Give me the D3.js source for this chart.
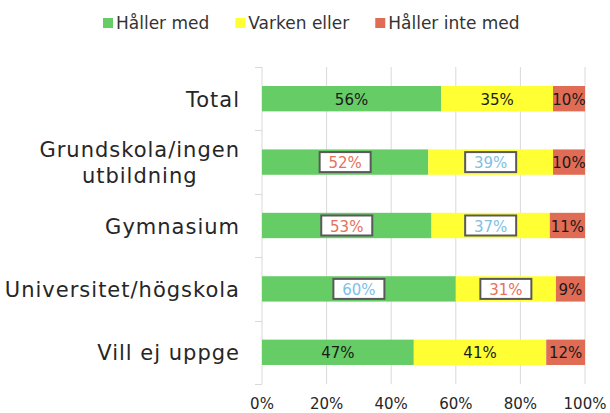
<!DOCTYPE html>
<html>
<head>
<meta charset="utf-8">
<script src="https://cdn.jsdelivr.net/npm/d3@7"></script>
<style>
  body { margin: 0; background: #fff; }
  svg { display: block; font-family: "Century Gothic", "DejaVu Sans", sans-serif; }
</style>
</head>
<body>
<div id="chart"></div>
<script>
// ---- data ----
const categories = ["Total", "Grundskola/ingen utbildning", "Gymnasium", "Universitet/högskola", "Vill ej uppge"];
const categoryLines = [["Total"], ["Grundskola/ingen", "utbildning"], ["Gymnasium"], ["Universitet/högskola"], ["Vill ej uppge"]];
const seriesNames = ["Håller med", "Varken eller", "Håller inte med"];
const hallerMed = [56, 52, 53, 60, 47];
const varkenEller = [35, 39, 37, 31, 41];
const hallerInteMed = [10, 10, 11, 9, 12];
// significance marks: -1 lower than total (red box), 1 higher (blue box), 0 none
const sigHallerMed = [0, -1, -1, 1, 0];
const sigVarken = [0, 1, 1, -1, 0];
const sigInte = [0, 0, 0, 0, 0];
const xTicks = [0, 0.2, 0.4, 0.6, 0.8, 1.0];

const colors = ["#66cc66", "#ffff33", "#e06c55"];
const sigColor = { "-1": "#e8705a", "1": "#7fc0e6" };

const W = 610, H = 413;
const svg = d3.select("#chart").append("svg").attr("width", W).attr("height", H);

const rows = categories.map((c, i) => ({
  cat: c, lines: categoryLines[i],
  "Håller med": hallerMed[i], "Varken eller": varkenEller[i], "Håller inte med": hallerInteMed[i]
}));
const sigs = [sigHallerMed, sigVarken, sigInte];

const stack = d3.stack().keys(seriesNames).offset(d3.stackOffsetExpand);
const series = stack(rows);

const x = d3.scaleLinear().domain([0, 1]).range([262, 585]);
const y = d3.scaleBand().domain(categories).range([67, 384]).paddingInner(0.6).paddingOuter(0.3);

// gridlines
svg.append("g").selectAll("line").data(xTicks.slice(1)).join("line")
  .attr("x1", d => x(d)).attr("x2", d => x(d))
  .attr("y1", 67).attr("y2", 384)
  .attr("stroke", "#d9d9d9").attr("stroke-width", 1);

// left axis line + ticks at band boundaries
const boundaries = d3.range(categories.length + 1).map(i => 67 + i * y.step());
svg.append("line").attr("x1", 262).attr("x2", 262).attr("y1", 67).attr("y2", 384)
  .attr("stroke", "#d9d9d9");
svg.append("g").selectAll("line").data(boundaries).join("line")
  .attr("x1", 255).attr("x2", 262).attr("y1", d => Math.round(d) + 0.5).attr("y2", d => Math.round(d) + 0.5)
  .attr("stroke", "#d9d9d9");

// bars
const gSeries = svg.append("g").selectAll("g").data(series).join("g")
  .attr("fill", (d, i) => colors[i]);
gSeries.selectAll("rect").data(d => d).join("rect")
  .attr("x", d => x(d[0]))
  .attr("width", d => x(d[1]) - x(d[0]))
  .attr("y", d => y(d.data.cat))
  .attr("height", y.bandwidth());

// value labels
series.forEach((s, si) => {
  s.forEach((d, ri) => {
    const cx = (x(d[0]) + x(d[1])) / 2;
    const cy = y(d.data.cat) + y.bandwidth() / 2;
    const sig = sigs[si][ri];
    const val = d.data[s.key];
    if (sig !== 0) {
      svg.append("rect")
        .attr("x", cx - 25.5).attr("y", cy - 10)
        .attr("width", 51).attr("height", 20)
        .attr("fill", "#fff").attr("stroke", "#595959").attr("stroke-width", 2);
    }
    svg.append("text")
      .attr("x", cx).attr("y", cy + 6)
      .attr("text-anchor", "middle")
      .attr("font-size", 15)
      .attr("fill", sig !== 0 ? sigColor[sig] : "#1a1a1a")
      .text(val + "%");
  });
});

// category labels
const catG = svg.append("g");
rows.forEach(r => {
  const cy = y(r.cat) + y.bandwidth() / 2;
  const n = r.lines.length;
  const t = catG.append("text")
    .attr("font-size", 21).attr("fill", "#262626")
    .attr("letter-spacing", 1);
  if (n === 1) {
    t.attr("x", 240).attr("y", cy + 8).attr("text-anchor", "end").text(r.lines[0]);
  } else {
    // measure first line to center the block under right edge
    const tmp = catG.append("text").attr("font-size", 21).attr("letter-spacing", 1).text(r.lines[0]);
    const w = tmp.node().getComputedTextLength();
    tmp.remove();
    const mid = 240 - w / 2;
    t.attr("text-anchor", "middle");
    r.lines.forEach((ln, li) => {
      t.append("tspan").attr("x", mid).attr("y", cy + 8 - 13 * (n - 1) + li * 26).text(ln);
    });
  }
});

// x tick labels
svg.append("g").selectAll("text").data(xTicks).join("text")
  .attr("x", d => x(d)).attr("y", 409)
  .attr("text-anchor", "middle").attr("font-size", 15).attr("fill", "#262626")
  .text(d => d3.format(".0%")(d));

// legend
const legend = svg.append("g");
let lx = 103;
seriesNames.forEach((name, i) => {
  legend.append("rect").attr("x", lx).attr("y", 18).attr("width", 10).attr("height", 10).attr("fill", colors[i]);
  const t = legend.append("text").attr("x", lx + 13).attr("y", 29)
    .attr("font-size", 17).attr("fill", "#333").text(name);
  lx += 13 + t.node().getComputedTextLength() + 26;
});
</script>
</body>
</html>
